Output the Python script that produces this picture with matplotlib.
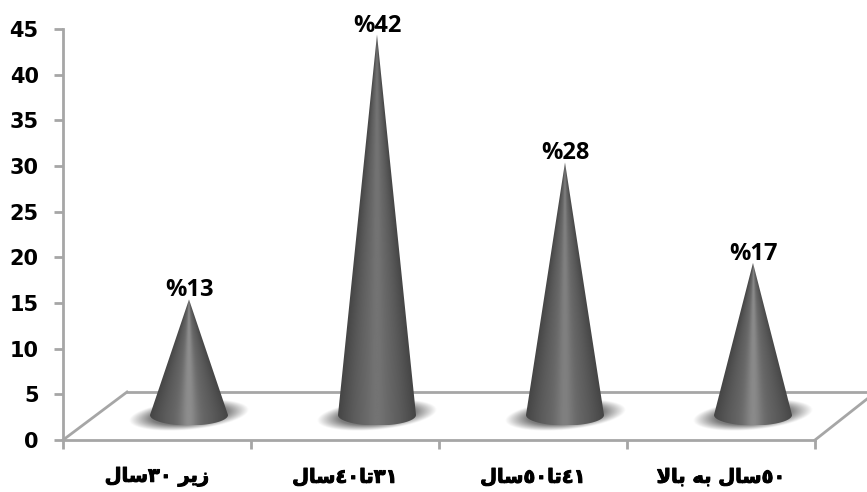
import numpy as np
import matplotlib
matplotlib.use("Agg")
import matplotlib.pyplot as plt
import matplotlib.patheffects as pe
from matplotlib.path import Path
from matplotlib.patches import PathPatch

# Persian labels, stored as shaped presentation forms in visual order
# (matplotlib has no bidi/shaping): زیر ۳۰سال, ۳۱تا۴۰سال, ۴۱تا۵۰سال, ۵۰سال به بالا
categories = [
    "\uFEDD\uFE8E\uFEB3\u0663\u0660 \uFEAE\uFBFE\uFEAF",
    "\uFEDD\uFE8E\uFEB3\u0664\u0660\uFE8E\uFE97\u0663\u0661",
    "\uFEDD\uFE8E\uFEB3\u0665\u0660\uFE8E\uFE97\u0664\u0661",
    "\uFEFB\uFE8E\uFE91 \uFEEA\uFE91 \uFEDD\uFE8E\uFEB3\u0665\u0660",
]
values = [13, 42, 28, 17]
value_labels = ["%13", "%42", "%28", "%17"]
y_ticks = [0, 5, 10, 15, 20, 25, 30, 35, 40, 45]

W, H = 867, 492
L, R, B, T = 63, 815, 440, 29
fig = plt.figure(figsize=(W / 100, H / 100), dpi=100, facecolor="white")
ax = fig.add_axes([L / W, 1 - B / H, (R - L) / W, (B - T) / H])

GREY = "#a6a6a6"
px_x = 4 / (R - L)          # one pixel in x data units
px_y = 45 / (B - T)         # one pixel in y data units

# 3-D floor
depth_x, depth_y = 64 * px_x, 48 * px_y
right_x, right_y = 4 + 52 * px_x, 41 * px_y
ax.plot([0, depth_x], [0, depth_y], color=GREY, lw=2, clip_on=False, zorder=1)
ax.plot([depth_x, right_x], [depth_y, depth_y], color=GREY, lw=2, clip_on=False, zorder=1)
ax.plot([4, right_x], [0, right_y], color=GREY, lw=2, clip_on=False, zorder=1)

# Cones
hw = 39 * px_x
minor = 10.5 * px_y
off_x, off_y = depth_x / 2, 25 * px_y
for i, val in enumerate(values):
    cx = i + 0.5 + off_x
    # soft, slightly tilted shadow
    sx = np.linspace(cx - 70 * px_x, cx + 74 * px_x, 290)
    sy = np.linspace(off_y - 22 * px_y, off_y + 22 * px_y, 90)
    X, Y = np.meshgrid(sx, sy)
    dx = (X - cx) / px_x
    dy = (Y - off_y) / px_y - 0.09 * dx
    r = np.hypot(dx / 60, dy / 15)
    rgba = np.zeros(X.shape + (4,))
    rgba[..., :3] = 0.42
    rgba[..., 3] = np.clip((1 - r) / 0.38, 0, 1) * 0.9
    ax.imshow(rgba, extent=[sx[0], sx[-1], sy[0], sy[-1]], origin="lower",
              aspect="auto", zorder=2, interpolation="bilinear", clip_on=False)

    # shaded body
    apex = off_y + val - 0.35
    gx = np.linspace(cx - hw, cx + hw, 320)
    gy = np.linspace(off_y - minor, apex, 800)
    X, Y = np.meshgrid(gx, gy)
    t = np.clip((Y - off_y) / (apex - off_y), 0, 0.995)
    u = np.clip((X - cx) / (hw * (1 - t)), -1, 1)
    centre = 0.60 - 0.0035 * val
    shade = 0.27 + 0.15 * np.cos(u * np.pi / 2) + (centre - 0.42) * np.exp(-(u / 0.22) ** 2)
    img = ax.imshow(shade, extent=[gx[0], gx[-1], gy[0], gy[-1]], origin="lower",
                    cmap="gray", vmin=0, vmax=1, aspect="auto", zorder=3,
                    interpolation="bilinear")
    th = np.linspace(np.pi, 2 * np.pi, 60)
    verts = [(cx, apex)] + list(zip(cx + hw * np.cos(th), off_y + minor * np.sin(th))) + [(cx, apex)]
    clip = PathPatch(Path(verts), transform=ax.transData, fc="none", ec="none")
    ax.add_patch(clip)
    img.set_clip_on(True)
    img.set_clip_path(clip)

    ax.text(cx, apex - 3 * px_y, value_labels[i], ha="center", va="bottom",
            family="Open Sans", weight="bold", fontsize=17, color="black",
            zorder=5, clip_on=False)

ax.set_xlim(0, 4)
ax.set_ylim(0, 45)
ax.set_yticks(y_ticks)
ax.set_xticks(range(5))
ax.set_xticklabels([])
ax.set_xticks(np.arange(4) + 0.5, labels=categories, minor=True)
for s in ("top", "right"):
    ax.spines[s].set_visible(False)
for s in ("left", "bottom"):
    ax.spines[s].set_color(GREY)
    ax.spines[s].set_linewidth(2)
ax.tick_params(axis="both", which="major", color=GREY, width=2, length=6.5)
ax.tick_params(axis="y", pad=11, labelsize=15)
ax.tick_params(axis="x", which="minor", length=0, pad=20)
for lab in ax.get_yticklabels():
    lab.set_fontweight("bold")
for lab in ax.get_xticklabels(minor=True):
    lab.set_fontweight("bold")
    lab.set_fontsize(14)
    lab.set_path_effects([pe.withStroke(linewidth=0.7, foreground="black")])

fig.savefig("out.png", dpi=100, facecolor="white")
